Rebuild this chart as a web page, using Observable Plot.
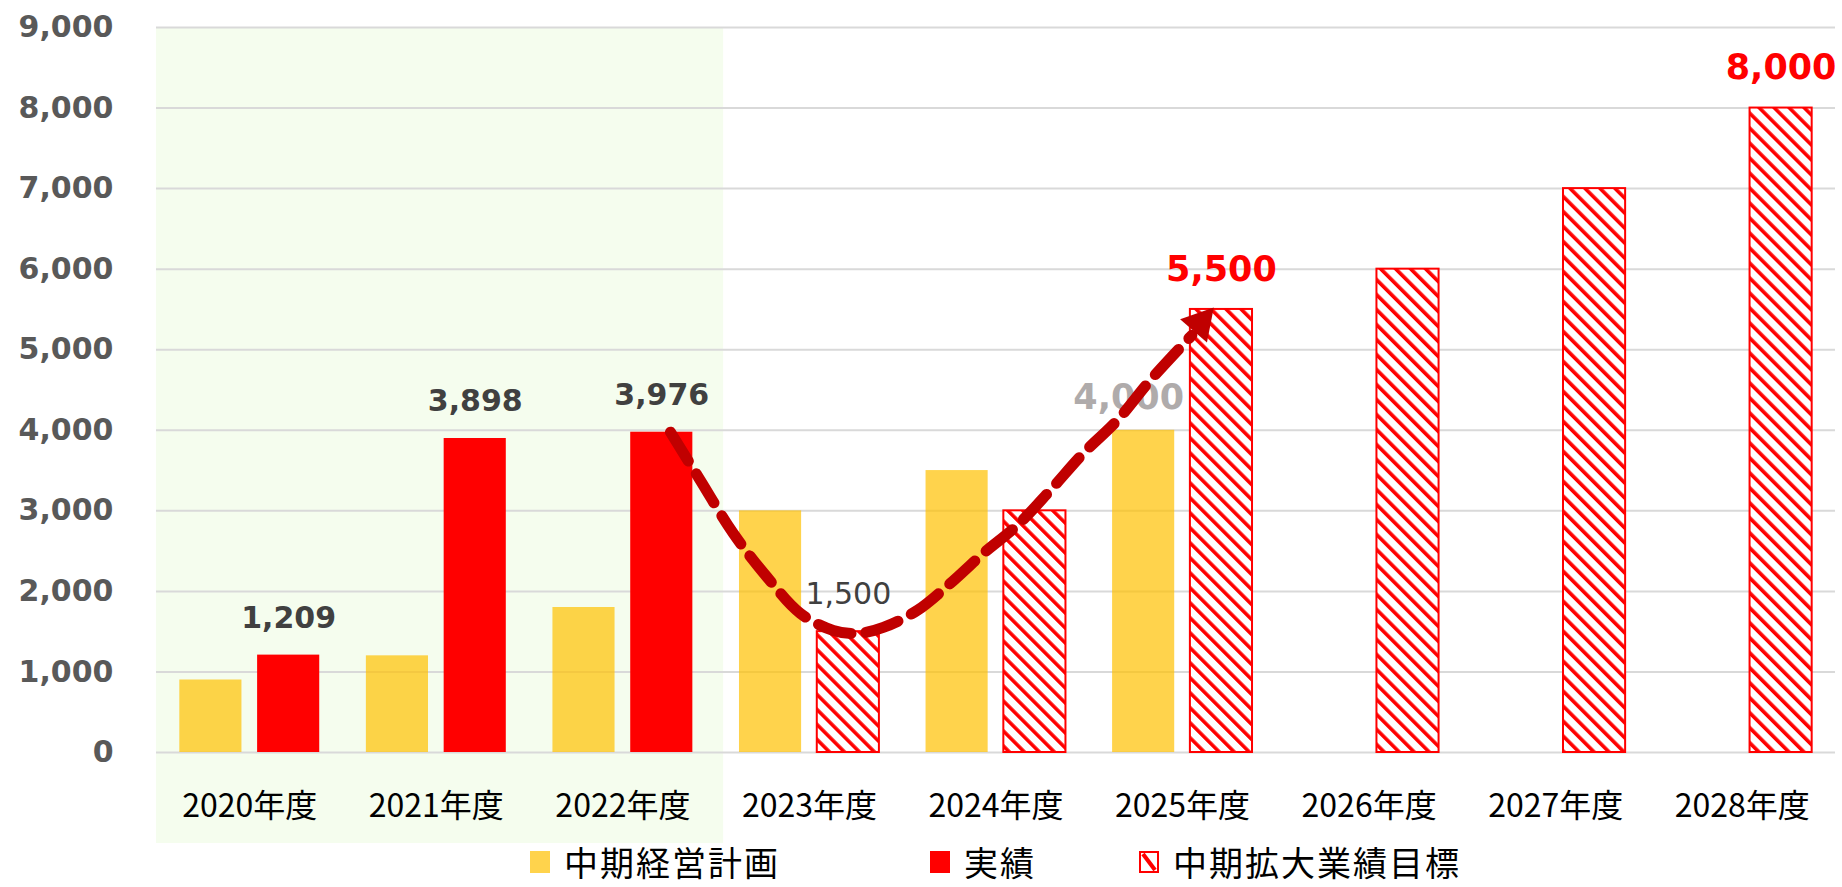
<!DOCTYPE html>
<html>
<head>
<meta charset="utf-8">
<script src="https://cdn.jsdelivr.net/npm/d3@7"></script>
<script src="https://cdn.jsdelivr.net/npm/@observablehq/plot@0.6"></script>
<style>
  html, body { margin: 0; padding: 0; background: #ffffff; }
  #chart svg { display: block; }
  .legend {
    display: flex; align-items: center; justify-content: center;
    box-sizing: border-box; width: 1842px; padding-left: 156px; padding-right: 7px; margin-top: -8px;
    height: 36px; font-family: "Noto Sans CJK JP", sans-serif; font-size: 34px; line-height: 36px; color: #000;
  }
  .item { display: flex; align-items: center; }
  .item svg { display: block; margin-right: 14px; }
  .item span { display: inline-block; height: 36px; line-height: 36px; letter-spacing: 2px; }
</style>
</head>
<body>
<div id="chart"></div>
<div class="legend" id="legend"></div>
<script>
// ---- data ----
const years = ["2020年度", "2021年度", "2022年度", "2023年度", "2024年度", "2025年度", "2026年度", "2027年度", "2028年度"];
const planValues   = [900, 1200, 1800, 3000, 3500, 4000, null, null, null];   // 中期経営計画
const actualValues = [1209, 3898, 3976, null, null, null, null, null, null]; // 実績
const targetValues = [null, null, null, 1500, 3000, 5500, 6000, 7000, 8000]; // 中期拡大業績目標
const seriesNames = ["中期経営計画", "実績", "中期拡大業績目標"];
const yTicks = [0, 1000, 2000, 3000, 4000, 5000, 6000, 7000, 8000, 9000];
const labeledTargetYears = ["2023年度", "2025年度", "2028年度"];
const labeledPlanYears = ["2025年度"];
const highlightYears = ["2020年度", "2021年度", "2022年度"];
// curved arrow path, in [category position, value] units
const arrowPath = [
  [2.755, 3976], [2.915, 3379], [3.092, 2720], [3.274, 2174], [3.451, 1727], [3.628, 1516],
  [3.757, 1478], [3.896, 1553], [4.078, 1764], [4.255, 2099], [4.432, 2472], [4.614, 2820],
  [4.791, 3255], [4.968, 3714], [5.150, 4124], [5.327, 4621], [5.55, 5180]
];
const arrowHead = [[5.595, 5330]];
const highlightBottom = -1130;
const highlightOverhang = 0.04;

// ---- build tables ----
const rows = (vals) => vals.map((value, i) => ({i, year: years[i], value})).filter(d => d.value != null);
const plan = rows(planValues);
const actual = rows(actualValues);
const target = rows(targetValues);
const fmt = d3.format(",");

const LEFT = [0.125, 0.458], RIGHT = [0.542, 0.875];
const mid = (r) => (r[0] + r[1]) / 2;

const hiIdx = highlightYears.map(y => years.indexOf(y));
const highlight = [{x1: d3.min(hiIdx), x2: d3.max(hiIdx) + 1 + highlightOverhang, y1: highlightBottom, y2: d3.max(yTicks)}];

const labelFont = "DejaVu Sans, Verdana, sans-serif";

const chart = Plot.plot({
  width: 1842,
  height: 852,
  marginLeft: 156,
  marginRight: 7,
  marginTop: 27,
  marginBottom: 100,
  x: {domain: [0, years.length]},
  y: {domain: [0, d3.max(yTicks)]},
  style: {background: "transparent", overflow: "visible"},
  marks: [
    Plot.rect(highlight, {x1: "x1", x2: "x2", y1: "y1", y2: "y2", fill: "#F5FDEE"}),
    Plot.gridY(yTicks, {stroke: "#D9D9D9", strokeOpacity: 1, strokeWidth: 2}),
    Plot.axisY({
      ticks: yTicks, tickFormat: fmt, tickSize: 0, tickPadding: 43, label: null,
      fontSize: 30, fontWeight: "bold", fill: "#595959", fontFamily: labelFont
    }),
    Plot.axisX({
      ticks: years.map((_, i) => i + 0.5), tickFormat: v => years[Math.floor(v)],
      tickSize: 0, tickPadding: 42, label: null,
      fontSize: 32, fill: "#000", fontFamily: "Noto Sans CJK JP, sans-serif"
    }),
    Plot.rect(plan, {x1: d => d.i + LEFT[0], x2: d => d.i + LEFT[1], y1: 0, y2: "value", fill: "#FFC000", fillOpacity: 0.7}),
    Plot.rect(actual, {x1: d => d.i + RIGHT[0], x2: d => d.i + RIGHT[1], y1: 0, y2: "value", fill: "#FF0000"}),
    Plot.rect(target, {x1: d => d.i + RIGHT[0], x2: d => d.i + RIGHT[1], y1: 0, y2: "value", fill: "url(#hatch)", stroke: "#FF0000", strokeWidth: 2}),
    // value labels
    Plot.text(actual, {x: d => d.i + mid(RIGHT), y: "value", text: d => fmt(d.value), dy: -37,
      fontSize: 30, fontWeight: "bold", fill: "#404040", fontFamily: labelFont}),
    Plot.text(target.filter(d => d.year === labeledTargetYears[0]), {x: d => d.i + mid(RIGHT), y: "value", text: d => fmt(d.value), dy: -37,
      fontSize: 30, fill: "#404040", fontFamily: labelFont}),
    Plot.text(target.filter(d => labeledTargetYears.slice(1).includes(d.year)), {x: d => d.i + mid(RIGHT), y: "value", text: d => fmt(d.value), dy: -40,
      fontSize: 35, fontWeight: "bold", fill: "#FF0000", fontFamily: labelFont}),
    Plot.text(plan.filter(d => labeledPlanYears.includes(d.year)), {x: d => d.i + mid(LEFT), y: "value", text: d => fmt(d.value), dy: -32, dx: -15,
      fontSize: 35, fontWeight: "bold", fill: "#AFABAB", fontFamily: labelFont}),
    // arrow
    Plot.line(arrowPath, {x: d => d[0], y: d => d[1], curve: "catmull-rom", stroke: "#C00000", strokeWidth: 11, strokeDasharray: "34,15"}),
    Plot.dot(arrowHead, {x: d => d[0], y: d => d[1], symbol: "triangle2", r: 17, fill: "#C00000", stroke: "none", rotate: 41})
  ]
});

// hatch pattern definition
const defs = d3.select(chart).insert("defs", ":first-child");
const pat = defs.append("pattern").attr("id", "hatch").attr("patternUnits", "userSpaceOnUse")
  .attr("width", 10.6).attr("height", 10.6).attr("patternTransform", "rotate(-45)");
pat.append("rect").attr("width", 10.6).attr("height", 10.6).attr("fill", "#ffffff");
pat.append("rect").attr("width", 3.6).attr("height", 10.6).attr("fill", "#FF0000");

document.getElementById("chart").appendChild(chart);

// legend
const legend = d3.select("#legend");
const swatches = [
  (s) => s.append("rect").attr("x", 0).attr("y", 0).attr("width", 20).attr("height", 22).attr("fill", "#FFC000").attr("fill-opacity", 0.7),
  (s) => s.append("rect").attr("x", 0).attr("y", 0).attr("width", 20).attr("height", 22).attr("fill", "#FF0000"),
  (s) => {
    s.append("rect").attr("x", 1).attr("y", 1).attr("width", 18).attr("height", 20).attr("fill", "#fff").attr("stroke", "#FF0000").attr("stroke-width", 2);
    s.append("line").attr("x1", 4).attr("y1", 3).attr("x2", 16).attr("y2", 19).attr("stroke", "#FF0000").attr("stroke-width", 4);
  }
];
const gaps = [150, 103, 0];
seriesNames.forEach((name, k) => {
  const item = legend.append("div").attr("class", "item").style("margin-right", gaps[k] + "px");
  const svg = item.append("svg").attr("width", 20).attr("height", 22);
  swatches[k](svg);
  item.append("span").text(name);
});
</script>
</body>
</html>
